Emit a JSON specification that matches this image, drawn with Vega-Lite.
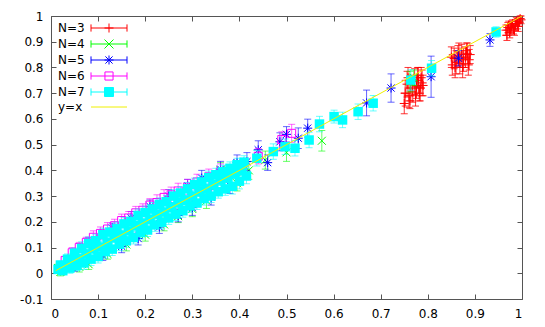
{
  "$schema": "https://vega.github.io/schema/vega-lite/v6.json",
  "width": 471,
  "height": 283,
  "autosize": {"type": "none"},
  "padding": {"left": 51, "top": 16, "right": 23, "bottom": 28},
  "background": "white",
  "config": {
    "view": {"stroke": "#555555", "strokeWidth": 1},
    "font": "DejaVu Sans",
    "axis": {"grid": false, "domain": false, "tickColor": "#555555", "tickSize": -5, "labelFont": "DejaVu Sans", "labelFontSize": 12, "labelColor": "#000000", "title": null}
  },
  "data": {"values": [
    {"s":"N=3","x":0.752,"y":0.700,"e":0.05},{"s":"N=3","x":0.756,"y":0.735,"e":0.05},{"s":"N=3","x":0.760,"y":0.690,"e":0.045},{"s":"N=3","x":0.764,"y":0.720,"e":0.05},{"s":"N=3","x":0.768,"y":0.705,"e":0.04},{"s":"N=3","x":0.772,"y":0.745,"e":0.05},{"s":"N=3","x":0.776,"y":0.725,"e":0.045},{"s":"N=3","x":0.780,"y":0.750,"e":0.05},{"s":"N=3","x":0.784,"y":0.720,"e":0.05},{"s":"N=3","x":0.788,"y":0.740,"e":0.05},
    {"s":"N=3","x":0.750,"y":0.660,"e":0.04},{"s":"N=3","x":0.758,"y":0.760,"e":0.04},{"s":"N=3","x":0.762,"y":0.670,"e":0.03},{"s":"N=3","x":0.774,"y":0.690,"e":0.04},{"s":"N=3","x":0.778,"y":0.760,"e":0.04},{"s":"N=3","x":0.782,"y":0.700,"e":0.03},{"s":"N=3","x":0.786,"y":0.760,"e":0.04},{"s":"N=3","x":0.790,"y":0.730,"e":0.04},
    {"s":"N=3","x":0.852,"y":0.810,"e":0.04},{"s":"N=3","x":0.856,"y":0.835,"e":0.04},{"s":"N=3","x":0.860,"y":0.820,"e":0.045},{"s":"N=3","x":0.864,"y":0.845,"e":0.04},{"s":"N=3","x":0.868,"y":0.815,"e":0.04},{"s":"N=3","x":0.872,"y":0.850,"e":0.04},{"s":"N=3","x":0.876,"y":0.830,"e":0.045},{"s":"N=3","x":0.880,"y":0.840,"e":0.04},{"s":"N=3","x":0.884,"y":0.855,"e":0.04},{"s":"N=3","x":0.888,"y":0.830,"e":0.04},
    {"s":"N=3","x":0.850,"y":0.840,"e":0.04},{"s":"N=3","x":0.858,"y":0.800,"e":0.04},{"s":"N=3","x":0.866,"y":0.860,"e":0.035},{"s":"N=3","x":0.874,"y":0.800,"e":0.04},{"s":"N=3","x":0.882,"y":0.865,"e":0.03},{"s":"N=3","x":0.886,"y":0.810,"e":0.04},{"s":"N=3","x":0.890,"y":0.850,"e":0.035},
    {"s":"N=3","x":0.966,"y":0.945,"e":0.02},{"s":"N=3","x":0.970,"y":0.955,"e":0.02},{"s":"N=3","x":0.974,"y":0.935,"e":0.02},{"s":"N=3","x":0.978,"y":0.960,"e":0.02},{"s":"N=3","x":0.982,"y":0.950,"e":0.02},{"s":"N=3","x":0.986,"y":0.965,"e":0.02},{"s":"N=3","x":0.990,"y":0.970,"e":0.02},{"s":"N=3","x":0.994,"y":0.975,"e":0.015},{"s":"N=3","x":0.998,"y":0.985,"e":0.015},
    {"s":"N=3","x":0.968,"y":0.925,"e":0.02},{"s":"N=3","x":0.972,"y":0.965,"e":0.015},{"s":"N=3","x":0.976,"y":0.950,"e":0.02},{"s":"N=3","x":0.980,"y":0.970,"e":0.015},{"s":"N=3","x":0.984,"y":0.945,"e":0.02},{"s":"N=3","x":0.988,"y":0.980,"e":0.015},{"s":"N=3","x":0.992,"y":0.960,"e":0.02},{"s":"N=3","x":0.996,"y":0.990,"e":0.01},
    {"s":"N=4","x":0.015,"y":0.020,"e":0.015},{"s":"N=4","x":0.020,"y":0.005,"e":0.015},{"s":"N=4","x":0.060,"y":0.025,"e":0.02},{"s":"N=4","x":0.080,"y":0.035,"e":0.02},{"s":"N=4","x":0.120,"y":0.075,"e":0.02},{"s":"N=4","x":0.160,"y":0.112,"e":0.025},{"s":"N=4","x":0.200,"y":0.150,"e":0.025},{"s":"N=4","x":0.240,"y":0.190,"e":0.025},{"s":"N=4","x":0.270,"y":0.222,"e":0.025},{"s":"N=4","x":0.300,"y":0.250,"e":0.03},{"s":"N=4","x":0.330,"y":0.282,"e":0.03},{"s":"N=4","x":0.360,"y":0.400,"e":0.03},{"s":"N=4","x":0.395,"y":0.350,"e":0.03},{"s":"N=4","x":0.420,"y":0.400,"e":0.035},{"s":"N=4","x":0.455,"y":0.440,"e":0.035},{"s":"N=4","x":0.500,"y":0.470,"e":0.035},{"s":"N=4","x":0.575,"y":0.515,"e":0.04},{"s":"N=4","x":0.762,"y":0.745,"e":0.04},{"s":"N=4","x":0.770,"y":0.760,"e":0.03},
    {"s":"N=5","x":0.050,"y":0.028,"e":0.02},{"s":"N=5","x":0.080,"y":0.120,"e":0.02},{"s":"N=5","x":0.110,"y":0.070,"e":0.02},{"s":"N=5","x":0.130,"y":0.175,"e":0.02},{"s":"N=5","x":0.150,"y":0.105,"e":0.025},{"s":"N=5","x":0.170,"y":0.215,"e":0.025},{"s":"N=5","x":0.185,"y":0.135,"e":0.025},{"s":"N=5","x":0.210,"y":0.260,"e":0.025},{"s":"N=5","x":0.230,"y":0.180,"e":0.025},{"s":"N=5","x":0.250,"y":0.300,"e":0.025},{"s":"N=5","x":0.270,"y":0.225,"e":0.025},{"s":"N=5","x":0.290,"y":0.340,"e":0.025},{"s":"N=5","x":0.300,"y":0.255,"e":0.03},{"s":"N=5","x":0.320,"y":0.370,"e":0.03},{"s":"N=5","x":0.340,"y":0.295,"e":0.03},{"s":"N=5","x":0.360,"y":0.405,"e":0.03},{"s":"N=5","x":0.380,"y":0.340,"e":0.03},{"s":"N=5","x":0.395,"y":0.430,"e":0.03},{"s":"N=5","x":0.416,"y":0.434,"e":0.035},{"s":"N=5","x":0.440,"y":0.480,"e":0.035},{"s":"N=5","x":0.460,"y":0.430,"e":0.03},{"s":"N=5","x":0.486,"y":0.511,"e":0.035},{"s":"N=5","x":0.500,"y":0.540,"e":0.03},{"s":"N=5","x":0.525,"y":0.525,"e":0.04},{"s":"N=5","x":0.545,"y":0.564,"e":0.035},{"s":"N=5","x":0.670,"y":0.662,"e":0.05},{"s":"N=5","x":0.722,"y":0.720,"e":0.055},{"s":"N=5","x":0.807,"y":0.764,"e":0.08},{"s":"N=5","x":0.865,"y":0.836,"e":0.03},{"s":"N=5","x":0.932,"y":0.907,"e":0.025},
    {"s":"N=6","x":0.030,"y":0.050,"e":0.015},{"s":"N=6","x":0.045,"y":0.080,"e":0.02},{"s":"N=6","x":0.060,"y":0.100,"e":0.02},{"s":"N=6","x":0.075,"y":0.120,"e":0.02},{"s":"N=6","x":0.090,"y":0.140,"e":0.025},{"s":"N=6","x":0.105,"y":0.155,"e":0.025},{"s":"N=6","x":0.120,"y":0.172,"e":0.025},{"s":"N=6","x":0.135,"y":0.185,"e":0.025},{"s":"N=6","x":0.150,"y":0.205,"e":0.025},{"s":"N=6","x":0.165,"y":0.215,"e":0.025},{"s":"N=6","x":0.180,"y":0.235,"e":0.025},{"s":"N=6","x":0.195,"y":0.245,"e":0.025},{"s":"N=6","x":0.210,"y":0.265,"e":0.025},{"s":"N=6","x":0.225,"y":0.275,"e":0.03},{"s":"N=6","x":0.240,"y":0.295,"e":0.03},{"s":"N=6","x":0.255,"y":0.305,"e":0.03},{"s":"N=6","x":0.270,"y":0.320,"e":0.03},{"s":"N=6","x":0.290,"y":0.335,"e":0.03},{"s":"N=6","x":0.310,"y":0.355,"e":0.03},{"s":"N=6","x":0.335,"y":0.375,"e":0.03},{"s":"N=6","x":0.360,"y":0.395,"e":0.03},{"s":"N=6","x":0.440,"y":0.455,"e":0.03},{"s":"N=6","x":0.490,"y":0.520,"e":0.03},{"s":"N=6","x":0.511,"y":0.544,"e":0.035},
    {"s":"N=7","x":0.020,"y":0.032,"e":0.015},{"s":"N=7","x":0.035,"y":0.055,"e":0.02},{"s":"N=7","x":0.050,"y":0.078,"e":0.02},{"s":"N=7","x":0.065,"y":0.097,"e":0.025},{"s":"N=7","x":0.080,"y":0.116,"e":0.025},{"s":"N=7","x":0.095,"y":0.127,"e":0.025},{"s":"N=7","x":0.110,"y":0.150,"e":0.025},{"s":"N=7","x":0.125,"y":0.160,"e":0.025},{"s":"N=7","x":0.140,"y":0.174,"e":0.025},{"s":"N=7","x":0.155,"y":0.192,"e":0.025},{"s":"N=7","x":0.170,"y":0.202,"e":0.025},{"s":"N=7","x":0.185,"y":0.225,"e":0.025},{"s":"N=7","x":0.200,"y":0.236,"e":0.025},{"s":"N=7","x":0.215,"y":0.250,"e":0.025},{"s":"N=7","x":0.230,"y":0.268,"e":0.025},{"s":"N=7","x":0.245,"y":0.278,"e":0.025},{"s":"N=7","x":0.260,"y":0.300,"e":0.025},{"s":"N=7","x":0.275,"y":0.312,"e":0.025},{"s":"N=7","x":0.290,"y":0.328,"e":0.025},{"s":"N=7","x":0.305,"y":0.345,"e":0.025},{"s":"N=7","x":0.320,"y":0.355,"e":0.025},{"s":"N=7","x":0.335,"y":0.372,"e":0.025},{"s":"N=7","x":0.350,"y":0.383,"e":0.025},{"s":"N=7","x":0.365,"y":0.395,"e":0.025},{"s":"N=7","x":0.380,"y":0.408,"e":0.025},{"s":"N=7","x":0.395,"y":0.422,"e":0.025},{"s":"N=7","x":0.410,"y":0.432,"e":0.025},
    {"s":"N=7","x":0.015,"y":0.015,"e":0.012},{"s":"N=7","x":0.030,"y":0.030,"e":0.015},{"s":"N=7","x":0.045,"y":0.048,"e":0.02},{"s":"N=7","x":0.060,"y":0.056,"e":0.02},{"s":"N=7","x":0.075,"y":0.075,"e":0.02},{"s":"N=7","x":0.090,"y":0.095,"e":0.02},{"s":"N=7","x":0.105,"y":0.102,"e":0.02},{"s":"N=7","x":0.120,"y":0.120,"e":0.02},{"s":"N=7","x":0.135,"y":0.140,"e":0.02},{"s":"N=7","x":0.150,"y":0.148,"e":0.02},{"s":"N=7","x":0.165,"y":0.165,"e":0.02},{"s":"N=7","x":0.180,"y":0.185,"e":0.02},{"s":"N=7","x":0.195,"y":0.193,"e":0.02},{"s":"N=7","x":0.210,"y":0.210,"e":0.02},{"s":"N=7","x":0.225,"y":0.230,"e":0.02},{"s":"N=7","x":0.240,"y":0.238,"e":0.02},{"s":"N=7","x":0.255,"y":0.255,"e":0.02},{"s":"N=7","x":0.270,"y":0.275,"e":0.02},{"s":"N=7","x":0.285,"y":0.283,"e":0.02},{"s":"N=7","x":0.300,"y":0.300,"e":0.02},{"s":"N=7","x":0.315,"y":0.318,"e":0.02},{"s":"N=7","x":0.330,"y":0.327,"e":0.02},{"s":"N=7","x":0.345,"y":0.345,"e":0.02},{"s":"N=7","x":0.360,"y":0.362,"e":0.02},{"s":"N=7","x":0.375,"y":0.372,"e":0.02},{"s":"N=7","x":0.390,"y":0.388,"e":0.02},{"s":"N=7","x":0.405,"y":0.400,"e":0.02},
    {"s":"N=7","x":0.025,"y":0.010,"e":0.015},{"s":"N=7","x":0.040,"y":0.020,"e":0.02},{"s":"N=7","x":0.055,"y":0.030,"e":0.02},{"s":"N=7","x":0.070,"y":0.040,"e":0.025},{"s":"N=7","x":0.085,"y":0.055,"e":0.025},{"s":"N=7","x":0.100,"y":0.065,"e":0.025},{"s":"N=7","x":0.115,"y":0.084,"e":0.025},{"s":"N=7","x":0.130,"y":0.094,"e":0.025},{"s":"N=7","x":0.145,"y":0.113,"e":0.025},{"s":"N=7","x":0.160,"y":0.126,"e":0.025},{"s":"N=7","x":0.175,"y":0.139,"e":0.025},{"s":"N=7","x":0.190,"y":0.158,"e":0.025},{"s":"N=7","x":0.205,"y":0.168,"e":0.025},{"s":"N=7","x":0.220,"y":0.188,"e":0.025},{"s":"N=7","x":0.235,"y":0.198,"e":0.025},{"s":"N=7","x":0.250,"y":0.215,"e":0.025},{"s":"N=7","x":0.265,"y":0.230,"e":0.025},{"s":"N=7","x":0.280,"y":0.243,"e":0.025},{"s":"N=7","x":0.295,"y":0.262,"e":0.025},{"s":"N=7","x":0.310,"y":0.273,"e":0.025},{"s":"N=7","x":0.325,"y":0.290,"e":0.025},{"s":"N=7","x":0.340,"y":0.300,"e":0.025},{"s":"N=7","x":0.355,"y":0.317,"e":0.025},{"s":"N=7","x":0.370,"y":0.328,"e":0.025},{"s":"N=7","x":0.385,"y":0.338,"e":0.03},{"s":"N=7","x":0.400,"y":0.358,"e":0.03},{"s":"N=7","x":0.415,"y":0.378,"e":0.03},
    {"s":"N=7","x":0.437,"y":0.447,"e":0.03},{"s":"N=7","x":0.472,"y":0.473,"e":0.03},{"s":"N=7","x":0.497,"y":0.492,"e":0.03},{"s":"N=7","x":0.518,"y":0.486,"e":0.03},{"s":"N=7","x":0.548,"y":0.518,"e":0.03},{"s":"N=7","x":0.570,"y":0.580,"e":0.03},{"s":"N=7","x":0.601,"y":0.609,"e":0.025},{"s":"N=7","x":0.619,"y":0.596,"e":0.03},{"s":"N=7","x":0.652,"y":0.628,"e":0.03},{"s":"N=7","x":0.684,"y":0.661,"e":0.03},{"s":"N=7","x":0.764,"y":0.751,"e":0.04},{"s":"N=7","x":0.808,"y":0.797,"e":0.03},{"s":"N=7","x":0.945,"y":0.938,"e":0.02}
  ]},
  "resolve": {"axis": {"x": "independent", "y": "independent"}},
  "layer": [
    {
      "transform": [{"filter": "datum.s === 'N=3'"}],
      "mark": {"type": "errorbar", "ticks": {"size": 7}, "opacity": 0.8},
      "encoding": {
        "x": {"field": "x", "type": "quantitative", "scale": {"domain": [0, 1], "nice": false, "zero": false},
              "axis": {"orient": "bottom", "values": [0,0.1,0.2,0.3,0.4,0.5,0.6,0.7,0.8,0.9,1], "labelExpr": "'' + datum.value", "labelPadding": 14, "title": null}},
        "y": {"field": "y", "type": "quantitative", "scale": {"domain": [-0.1, 1], "nice": false, "zero": false},
              "axis": {"orient": "left", "values": [-0.1,0,0.1,0.2,0.3,0.4,0.5,0.6,0.7,0.8,0.9,1], "labelExpr": "'' + datum.value", "labelPadding": 13, "title": null}},
        "yError": {"field": "e"},
        "color": {"value": "#ff0000"}
      }
    },
    {
      "transform": [{"filter": "datum.s === 'N=3'"}],
      "mark": {"type": "point", "shape": "M-1,0L1,0M0,-1L0,1", "filled": false, "size": 81, "opacity": 1, "strokeWidth": 1},
      "encoding": {"x": {"field": "x", "type": "quantitative", "axis": null}, "y": {"field": "y", "type": "quantitative", "axis": null}, "color": {"value": "#ff0000"}}
    },
    {
      "transform": [{"filter": "datum.s === 'N=4'"}],
      "mark": {"type": "errorbar", "ticks": {"size": 7}, "opacity": 0.6},
      "encoding": {"x": {"field": "x", "type": "quantitative", "axis": null}, "y": {"field": "y", "type": "quantitative", "axis": null}, "yError": {"field": "e"}, "color": {"value": "#00ff00"}}
    },
    {
      "transform": [{"filter": "datum.s === 'N=4'"}],
      "mark": {"type": "point", "shape": "M-1,-1L1,1M-1,1L1,-1", "filled": false, "size": 64, "opacity": 1, "strokeWidth": 1},
      "encoding": {"x": {"field": "x", "type": "quantitative", "axis": null}, "y": {"field": "y", "type": "quantitative", "axis": null}, "color": {"value": "#00ff00"}}
    },
    {
      "transform": [{"filter": "datum.s === 'N=5'"}],
      "mark": {"type": "errorbar", "ticks": {"size": 7}, "opacity": 0.6},
      "encoding": {"x": {"field": "x", "type": "quantitative", "axis": null}, "y": {"field": "y", "type": "quantitative", "axis": null}, "yError": {"field": "e"}, "color": {"value": "#0000ff"}}
    },
    {
      "transform": [{"filter": "datum.s === 'N=5'"}],
      "mark": {"type": "point", "shape": "M-1,0L1,0M0,-1L0,1M-0.8,-0.8L0.8,0.8M-0.8,0.8L0.8,-0.8", "filled": false, "size": 81, "opacity": 1, "strokeWidth": 1},
      "encoding": {"x": {"field": "x", "type": "quantitative", "axis": null}, "y": {"field": "y", "type": "quantitative", "axis": null}, "color": {"value": "#0000ff"}}
    },
    {
      "transform": [{"filter": "datum.s === 'N=6'"}],
      "mark": {"type": "errorbar", "ticks": {"size": 7}, "opacity": 0.6},
      "encoding": {"x": {"field": "x", "type": "quantitative", "axis": null}, "y": {"field": "y", "type": "quantitative", "axis": null}, "yError": {"field": "e"}, "color": {"value": "#ff00ff"}}
    },
    {
      "transform": [{"filter": "datum.s === 'N=6'"}],
      "mark": {"type": "point", "shape": "square", "filled": false, "size": 64, "opacity": 1, "strokeWidth": 1},
      "encoding": {"x": {"field": "x", "type": "quantitative", "axis": null}, "y": {"field": "y", "type": "quantitative", "axis": null}, "color": {"value": "#ff00ff"}}
    },
    {
      "transform": [{"filter": "datum.s === 'N=7'"}],
      "mark": {"type": "errorbar", "ticks": {"size": 7}, "opacity": 0.6},
      "encoding": {"x": {"field": "x", "type": "quantitative", "axis": null}, "y": {"field": "y", "type": "quantitative", "axis": null}, "yError": {"field": "e"}, "color": {"value": "#00ffff"}}
    },
    {
      "transform": [{"filter": "datum.s === 'N=7'"}],
      "mark": {"type": "point", "shape": "square", "filled": true, "size": 90, "opacity": 1},
      "encoding": {"x": {"field": "x", "type": "quantitative", "axis": null}, "y": {"field": "y", "type": "quantitative", "axis": null}, "color": {"value": "#00ffff"}}
    },
    {
      "data": {"values": [{"x": 0.01, "y": 0.01}, {"x": 1, "y": 1}]},
      "mark": {"type": "line", "color": "#f0f000", "strokeWidth": 1},
      "encoding": {
        "x": {"field": "x", "type": "quantitative", "axis": {"orient": "top", "labels": false, "values": [0,0.1,0.2,0.3,0.4,0.5,0.6,0.7,0.8,0.9,1], "title": null}},
        "y": {"field": "y", "type": "quantitative", "axis": {"orient": "right", "labels": false, "values": [-0.1,0,0.1,0.2,0.3,0.4,0.5,0.6,0.7,0.8,0.9,1], "title": null}}
      }
    },
    {
      "transform": [{"filter": "false"}],
      "mark": {"type": "point", "filled": true, "size": 81, "opacity": 1, "strokeWidth": 1},
      "encoding": {
        "x": {"field": "x", "type": "quantitative", "axis": null},
        "y": {"field": "y", "type": "quantitative", "axis": null},
        "shape": {"field": "s", "type": "nominal", "scale": {"domain": ["N=3","N=4","N=5","N=6","N=7","y=x"], "range": [
          "M-4,0L4,0M-4,-0.8L-4,0.8M4,-0.8L4,0.8M-1,0L1,0M0,-1L0,1",
          "M-4,0L4,0M-4,-0.8L-4,0.8M4,-0.8L4,0.8M-1,-1L1,1M-1,1L1,-1",
          "M-4,0L4,0M-4,-0.8L-4,0.8M4,-0.8L4,0.8M-1,0L1,0M0,-1L0,1M-0.8,-0.8L0.8,0.8M-0.8,0.8L0.8,-0.8",
          "M-4,0L4,0M-4,-0.8L-4,0.8M4,-0.8L4,0.8M-0.9,-0.9L0.9,-0.9L0.9,0.9L-0.9,0.9Z",
          "M-4,0L4,0M-4,-0.8L-4,0.8M4,-0.8L4,0.8M-1,-1L1,-1L1,1L-1,1Z",
          "M-4,0L4,0"
        ]}, "legend": {"title": null, "orient": "none", "legendX": 52, "legendY": 6, "padding": 0, "symbolOffset": 0, "labelOffset": -57, "rowPadding": 2, "symbolSize": 81, "labelFont": "DejaVu Sans", "labelFontSize": 12, "symbolStrokeWidth": 1}},
        "fill": {"field": "s", "type": "nominal", "scale": {"domain": ["N=3","N=4","N=5","N=6","N=7","y=x"], "range": ["transparent","transparent","transparent","transparent","#00ffff","transparent"]}, "legend": {"title": null}},
        "stroke": {"field": "s", "type": "nominal", "scale": {"domain": ["N=3","N=4","N=5","N=6","N=7","y=x"], "range": ["#ff0000","#00ff00","#0000ff","#ff00ff","#00ffff","#f0f000"]}, "legend": {"title": null}}
      }
    }
  ]
}
